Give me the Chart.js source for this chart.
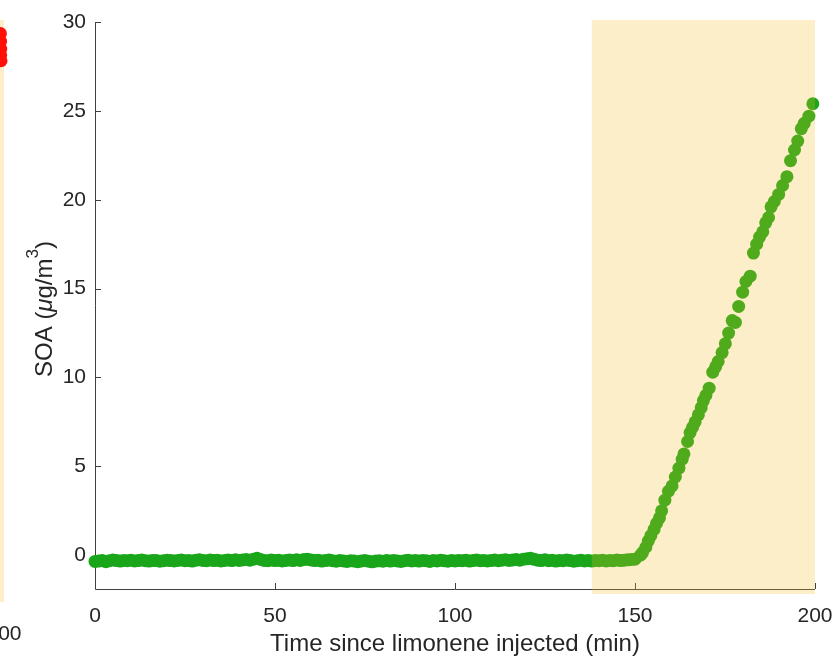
<!DOCTYPE html>
<html>
<head>
<meta charset="utf-8">
<script src="https://cdn.jsdelivr.net/npm/chart.js@4.4.1/dist/chart.umd.min.js"></script>
<style>
  html, body { margin: 0; padding: 0; background: #fff; overflow: hidden; }
  #wrap { position: relative; width: 839px; height: 662px; }
  #soaChart { position: absolute; left: 0; top: 0; }
  #sideChart { position: absolute; left: -236px; top: 0; }
</style>
</head>
<body>
<div id="wrap">
  <canvas id="soaChart" width="839" height="662"></canvas>
  <canvas id="sideChart" width="260" height="662"></canvas>
</div>
<script>
const TEXT = "#262626";
const FONT = "'Liberation Sans', Arial, Helvetica, sans-serif";

// baseline before growth starts (min, ug/m3)
const baseTime = [
  0,1,2,3,4,5,6,7,8,9,10,11,12,13,14,15,16,17,18,19,
  20,21,22,23,24,25,26,27,28,29,30,31,32,33,34,35,36,37,38,39,
  40,41,42,43,44,45,46,47,48,49,50,51,52,53,54,55,56,57,58,59,
  60,61,62,63,64,65,66,67,68,69,70,71,72,73,74,75,76,77,78,79,
  80,81,82,83,84,85,86,87,88,89,90,91,92,93,94,95,96,97,98,99,
  100,101,102,103,104,105,106,107,108,109,110,111,112,113,114,115,116,117,118,119,
  120,121,122,123,124,125,126,127,128,129,130,131,132,133,134,135,136,137,138,139,
  140,141,142,143,144,145,146,147,148,149,150
];
const baseSOA = [
  -0.35,-0.33,-0.30,-0.36,-0.31,-0.27,-0.30,-0.33,-0.29,-0.31,
  -0.28,-0.32,-0.30,-0.27,-0.31,-0.33,-0.29,-0.30,-0.34,-0.31,
  -0.28,-0.30,-0.32,-0.29,-0.27,-0.31,-0.30,-0.33,-0.28,-0.26,
  -0.29,-0.31,-0.27,-0.30,-0.28,-0.32,-0.29,-0.27,-0.30,-0.26,
  -0.29,-0.27,-0.24,-0.28,-0.22,-0.17,-0.24,-0.29,-0.31,-0.27,
  -0.30,-0.28,-0.32,-0.29,-0.27,-0.30,-0.26,-0.29,-0.24,-0.23,
  -0.27,-0.30,-0.28,-0.33,-0.30,-0.27,-0.31,-0.34,-0.30,-0.32,
  -0.35,-0.31,-0.33,-0.36,-0.32,-0.30,-0.34,-0.37,-0.33,-0.31,
  -0.34,-0.30,-0.33,-0.29,-0.32,-0.35,-0.31,-0.28,-0.32,-0.30,
  -0.33,-0.29,-0.31,-0.35,-0.30,-0.32,-0.28,-0.31,-0.34,-0.30,
  -0.32,-0.29,-0.31,-0.28,-0.33,-0.30,-0.27,-0.31,-0.29,-0.32,
  -0.30,-0.27,-0.31,-0.28,-0.25,-0.29,-0.27,-0.24,-0.28,-0.22,
  -0.20,-0.17,-0.23,-0.28,-0.30,-0.26,-0.31,-0.28,-0.33,-0.29,
  -0.31,-0.27,-0.30,-0.34,-0.31,-0.28,-0.32,-0.30,-0.33,-0.29,
  -0.31,-0.28,-0.32,-0.29,-0.31,-0.27,-0.30,-0.28,-0.26,-0.24,
  -0.22
];

// growth period
const riseTime = [
  151.5,152.1,153.0,153.7,154.4,155.3,156.0,156.8,157.4,158.3,
  159.3,160.3,161.2,162.2,163.1,163.6,164.6,165.3,166.0,166.7,
  167.6,168.4,169.0,169.7,170.6,171.6,172.4,173.1,174.2,175.1,
  176.0,177.0,177.9,178.8,179.9,180.8,182.0,182.9,183.8,184.6,
  185.5,186.3,187.1,187.8,188.7,189.9,191.0,192.2,193.2,194.3,
  195.2,196.2,197.0,198.3,199.4
];
const riseSOA = [
  0.0,0.15,0.45,0.8,1.1,1.45,1.8,2.1,2.5,3.1,
  3.6,3.9,4.4,4.9,5.4,5.7,6.4,6.9,7.2,7.5,
  7.9,8.3,8.7,9.0,9.4,10.3,10.6,10.9,11.4,11.9,
  12.5,13.2,13.1,14.0,14.8,15.4,15.7,17.0,17.5,17.9,
  18.2,18.7,19.0,19.6,19.9,20.3,20.8,21.3,22.2,22.8,
  23.3,24.0,24.3,24.7,25.4
];

const xTicks = [0, 50, 100, 150, 200];
const yTicks = [0, 5, 10, 15, 20, 25, 30];
const shadeFrom = 138;
const shadeTo = 200;

// right end of the neighbouring panel
const sideTime = [196.0, 196.2, 196.4, 196.3, 196.7];
const sideVals = [29.3, 28.9, 28.5, 28.2, 27.9];

const soaPoints = baseTime.map((t, i) => ({ x: t, y: baseSOA[i] }))
  .concat(riseTime.map((t, i) => ({ x: t, y: riseSOA[i] })));

function drawYTitle(ctx, bx, cy) {
  const size = 24;
  const parts = [
    { t: "SOA (", f: `${size}px ${FONT}`, dy: 0 },
    { t: "\u03bc", f: `italic ${size}px ${FONT}`, dy: 0 },
    { t: "g/m", f: `${size}px ${FONT}`, dy: 0 },
    { t: "3", f: `${Math.round(size * 0.7)}px ${FONT}`, dy: -14 },
    { t: ")", f: `${size}px ${FONT}`, dy: 0 },
  ];
  let w = 0;
  parts.forEach(p => { ctx.font = p.f; p.w = ctx.measureText(p.t).width; w += p.w; });
  ctx.save();
  ctx.translate(bx, cy);
  ctx.rotate(-Math.PI / 2);
  ctx.fillStyle = TEXT;
  ctx.textBaseline = "alphabetic";
  ctx.textAlign = "left";
  let x = -w / 2;
  parts.forEach(p => { ctx.font = p.f; ctx.fillText(p.t, x, p.dy); x += p.w; });
  ctx.restore();
}

const axesPlugin = {
  id: "matlabAxes",
  beforeDatasetsDraw(chart) {
    const { ctx, chartArea: a, scales: { x, y } } = chart;
    ctx.save();
    ctx.strokeStyle = "#404040";
    ctx.lineWidth = 1;
    ctx.beginPath();
    ctx.moveTo(a.left + 0.5, a.top);
    ctx.lineTo(a.left + 0.5, a.bottom + 0.5);
    ctx.lineTo(a.right, a.bottom + 0.5);
    // inward tick marks
    xTicks.forEach(v => {
      const px = Math.round(x.getPixelForValue(v)) + 0.5;
      ctx.moveTo(px, a.bottom);
      ctx.lineTo(px, a.bottom - 6);
    });
    yTicks.forEach(v => {
      const py = Math.round(y.getPixelForValue(v)) + 0.5;
      ctx.moveTo(a.left, py);
      ctx.lineTo(a.left + 6, py);
    });
    ctx.stroke();
    ctx.restore();
  },
  afterDraw(chart) {
    const { ctx, chartArea: a, scales: { x } } = chart;
    // highlighted window, laid over the markers
    const x1 = x.getPixelForValue(shadeFrom);
    const x2 = x.getPixelForValue(shadeTo);
    ctx.save();
    ctx.fillStyle = "rgba(243,187,34,0.25)";
    ctx.fillRect(x1, a.top - 2, x2 - x1, a.bottom - a.top + 7);
    ctx.fillStyle = TEXT;
    ctx.font = `24px ${FONT}`;
    ctx.textAlign = "center";
    ctx.textBaseline = "alphabetic";
    ctx.fillText("Time since limonene injected (min)", (a.left + a.right) / 2, 651);
    ctx.restore();
    drawYTitle(ctx, 52, 309);
  }
};

new Chart(document.getElementById("soaChart"), {
  type: "scatter",
  data: {
    datasets: [{
      data: soaPoints,
      backgroundColor: "rgb(26,166,26)",
      borderWidth: 0,
      pointRadius: 6.5,
      pointHoverRadius: 6.5,
      clip: false
    }]
  },
  options: {
    responsive: false,
    animation: false,
    devicePixelRatio: 1,
    events: [],
    layout: { padding: { top: 22, right: 24, left: 0, bottom: 0 } },
    plugins: { legend: { display: false }, tooltip: { enabled: false } },
    scales: {
      x: {
        type: "linear",
        min: 0,
        max: 200,
        grid: { display: false, drawTicks: false },
        border: { display: false },
        afterBuildTicks: s => { s.ticks = xTicks.map(v => ({ value: v })); },
        afterFit: s => { s.height = 73; s.paddingLeft = 0; s.paddingRight = 0; },
        ticks: { padding: 15, color: TEXT, font: { family: FONT, size: 21 } }
      },
      y: {
        type: "linear",
        min: -1.9,
        max: 30,
        grid: { display: false, drawTicks: false },
        border: { display: false },
        afterBuildTicks: s => { s.ticks = yTicks.map(v => ({ value: v })); },
        afterFit: s => { s.width = 95; s.paddingTop = 0; s.paddingBottom = 0; },
        ticks: { padding: 9, color: TEXT, font: { family: FONT, size: 21 } }
      }
    }
  },
  plugins: [axesPlugin]
});

// neighbouring panel, only its right edge shows
new Chart(document.getElementById("sideChart"), {
  type: "scatter",
  data: {
    datasets: [{
      data: sideTime.map((t, i) => ({ x: t, y: sideVals[i] })),
      backgroundColor: "rgb(255,16,8)",
      borderWidth: 0,
      pointRadius: 6.5,
      clip: false
    }]
  },
  options: {
    responsive: false,
    animation: false,
    devicePixelRatio: 1,
    events: [],
    layout: { padding: { top: 20, right: 20, left: 60, bottom: 0 } },
    plugins: { legend: { display: false }, tooltip: { enabled: false } },
    scales: {
      x: {
        type: "linear",
        min: 0,
        max: 200,
        grid: { display: false, drawTicks: false },
        border: { display: false },
        afterBuildTicks: s => { s.ticks = [{ value: 200 }]; },
        afterFit: s => { s.height = 60; s.paddingLeft = 0; s.paddingRight = 0; },
        ticks: { padding: 20, color: TEXT, font: { family: FONT, size: 21 } }
      },
      y: { type: "linear", display: false, min: 0, max: 30 }
    }
  },
  plugins: [{
    id: "sideShade",
    beforeDatasetsDraw(chart) {
      const { ctx, chartArea: a } = chart;
      ctx.save();
      ctx.fillStyle = "rgb(252,238,200)";
      ctx.fillRect(a.left, a.top, a.right - a.left, a.bottom - a.top);
      ctx.restore();
    }
  }]
});
</script>
</body>
</html>
